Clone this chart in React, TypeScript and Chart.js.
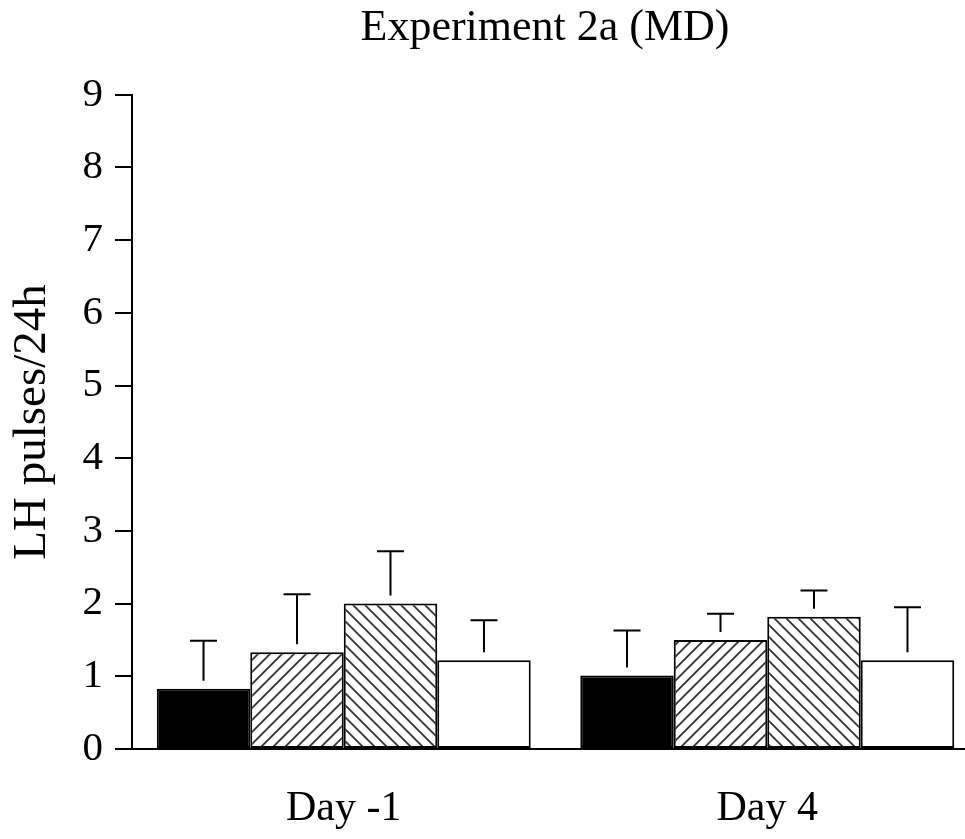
import React, { useEffect, useRef } from 'react';
import { Chart, registerables } from 'chart.js';

Chart.register(...registerables);

const chartTitle = 'Experiment 2a (MD)';
const yAxisLabel = 'LH pulses/24h';
const categories = ['Day -1', 'Day 4'];
const seriesNames = ['Group 1', 'Group 2', 'Group 3', 'Group 4'];
const blackMeans = [0.83, 1.01];
const blackErr = [0.66, 0.62];
const fwdHatchMeans = [1.33, 1.5];
const fwdHatchErr = [0.8, 0.36];
const backHatchMeans = [2.0, 1.82];
const backHatchErr = [0.72, 0.36];
const whiteMeans = [1.22, 1.22];
const whiteErr = [0.55, 0.73];
const yMin = 0;
const yMax = 9;
const yStep = 1;

const FONT = "'Liberation Serif', 'Times New Roman', serif";

function makeHatch(forward: boolean): CanvasPattern | string {
  const s = 12;
  const c = document.createElement('canvas');
  c.width = s;
  c.height = s;
  const g = c.getContext('2d');
  if (!g) return '#fff';
  g.fillStyle = '#fff';
  g.fillRect(0, 0, s, s);
  g.strokeStyle = '#333';
  g.lineWidth = 1.8;
  g.beginPath();
  if (forward) {
    g.moveTo(-2, s + 2); g.lineTo(s + 2, -2);
    g.moveTo(-2, 2); g.lineTo(2, -2);
    g.moveTo(s - 2, s + 2); g.lineTo(s + 2, s - 2);
  } else {
    g.moveTo(-2, -2); g.lineTo(s + 2, s + 2);
    g.moveTo(-2, s - 2); g.lineTo(2, s + 2);
    g.moveTo(s - 2, -2); g.lineTo(s + 2, 2);
  }
  g.stroke();
  const p = g.createPattern(c, 'repeat');
  return p || '#fff';
}

export default function App() {
  const ref = useRef<HTMLCanvasElement | null>(null);

  useEffect(() => {
    if (!ref.current) return;
    const errors = [blackErr, fwdHatchErr, backHatchErr, whiteErr];

    const errorBarPlugin = {
      id: 'errorBars',
      afterDatasetsDraw(chart: any) {
        const ctx = chart.ctx;
        const y = chart.scales.y;
        chart.data.datasets.forEach((ds: any, i: number) => {
          const meta = chart.getDatasetMeta(i);
          meta.data.forEach((bar: any, j: number) => {
            const v = ds.data[j] as number;
            const e = errors[i][j];
            const top = y.getPixelForValue(v + e);
            ctx.save();
            ctx.strokeStyle = '#000';
            ctx.lineWidth = 2;
            ctx.beginPath();
            ctx.moveTo(bar.x, bar.y - 8);
            ctx.lineTo(bar.x, top);
            ctx.moveTo(bar.x - 13.5, top);
            ctx.lineTo(bar.x + 13.5, top);
            ctx.stroke();
            ctx.restore();
          });
        });
      },
    };

    const common = {
      borderColor: '#000',
      borderWidth: 2,
      borderSkipped: false as const,
      barPercentage: 1.0,
      categoryPercentage: 0.883,
    };

    const chart = new Chart(ref.current, {
      type: 'bar',
      data: {
        labels: categories,
        datasets: [
          { label: seriesNames[0], data: blackMeans, backgroundColor: '#000', ...common },
          { label: seriesNames[1], data: fwdHatchMeans, backgroundColor: makeHatch(true) as any, ...common },
          { label: seriesNames[2], data: backHatchMeans, backgroundColor: makeHatch(false) as any, ...common },
          { label: seriesNames[3], data: whiteMeans, backgroundColor: '#fff', ...common },
        ],
      },
      options: {
        responsive: false,
        animation: false,
        devicePixelRatio: 1,
        layout: { padding: 0 },
        plugins: {
          legend: { display: false },
          tooltip: { enabled: false },
          title: {
            display: true,
            text: chartTitle,
            fullSize: true,
            color: '#000',
            font: { family: FONT, size: 44, weight: 'normal' },
            padding: { top: 2, bottom: 40 },
          },
        },
        scales: {
          x: {
            offset: true,
            afterFit: (scale: any) => {
              scale.height = 90;
            },
            grid: { display: false },
            border: { display: true, color: '#000', width: 2 },
            ticks: {
              color: '#000',
              font: { family: FONT, size: 42 },
              padding: 27,
            },
          },
          y: {
            min: yMin,
            max: yMax,
            afterFit: (scale: any) => {
              scale.width = 132;
            },
            grid: {
              drawOnChartArea: false,
              drawTicks: true,
              tickLength: 17,
              color: '#000',
              lineWidth: 2,
            },
            border: { display: true, color: '#000', width: 2 },
            ticks: {
              stepSize: yStep,
              color: '#000',
              font: { family: FONT, size: 41 },
              padding: 12,
            },
            title: {
              display: true,
              text: yAxisLabel,
              color: '#000',
              font: { family: FONT, size: 47 },
              padding: { top: 4, bottom: 4 },
            },
          },
          spacer: {
            type: 'linear',
            position: 'right',
            display: true,
            min: 0,
            max: 1,
            afterFit: (scale: any) => {
              scale.width = 111;
            },
            grid: { display: false },
            border: { display: false },
            ticks: { display: false },
          },
        },
      },
      plugins: [errorBarPlugin],
    });

    return () => chart.destroy();
  }, []);

  return (
    <div
      style={{
        position: 'absolute',
        left: 0,
        top: 0,
        width: 965,
        height: 839,
        overflow: 'hidden',
        background: '#fff',
      }}
    >
      <canvas ref={ref} width={1090} height={839} style={{ display: 'block' }} />
    </div>
  );
}
